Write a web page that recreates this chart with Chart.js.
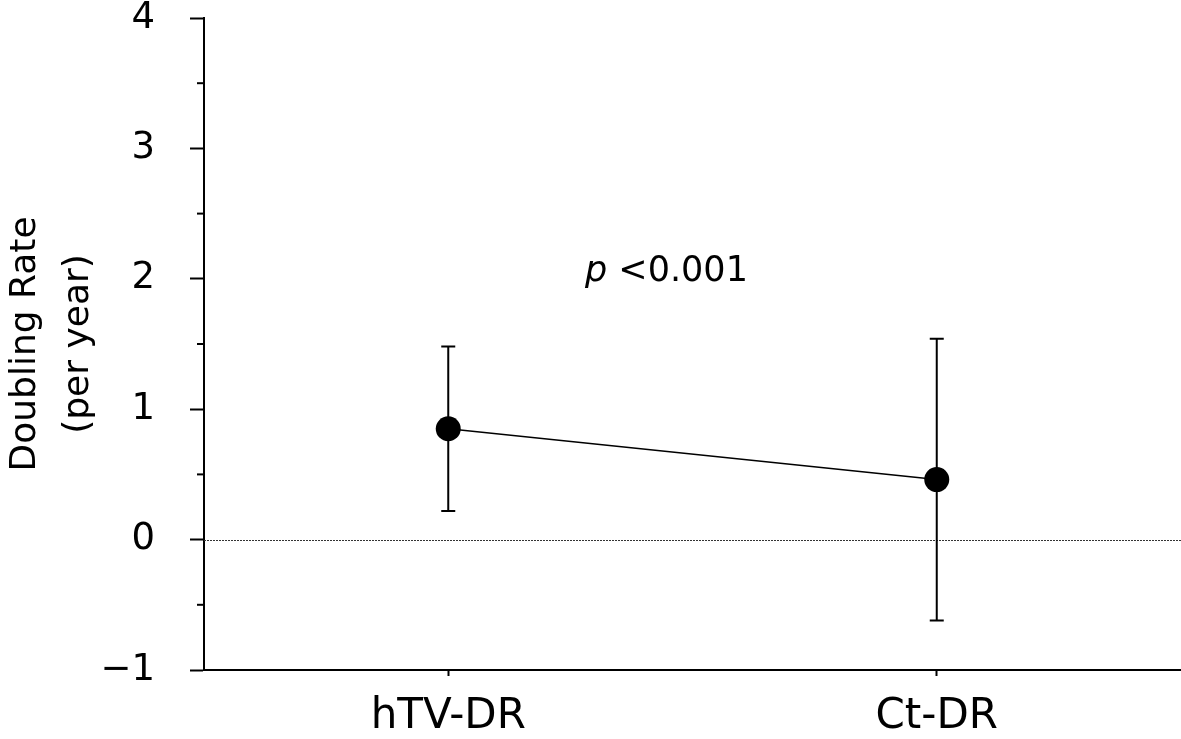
<!DOCTYPE html>
<html>
<head>
<meta charset="utf-8">
<script src="https://cdn.jsdelivr.net/npm/chart.js@4.4.1/dist/chart.umd.min.js"></script>
<style>
  html, body { margin: 0; padding: 0; background: #fff; overflow: hidden; }
  canvas { display: block; }
</style>
</head>
<body>
<canvas id="chart" width="1181" height="739"></canvas>
<script>
// Data
const categories = ['hTV-DR', 'Ct-DR'];
const meanValues = [0.85, 0.46];
const upperValues = [1.48, 1.54];
const lowerValues = [0.22, -0.62];
const yMin = -1;
const yMax = 4;
const pLabel = '<0.001';

const FONT = '"DejaVu Sans", "Liberation Sans", Arial, sans-serif';

// Error bars, zero reference line, minor ticks and the p-value note
const extrasPlugin = {
    id: 'extras',
    beforeDatasetsDraw(chart) {
        const ctx = chart.ctx;
        const x = chart.scales.x;
        const y = chart.scales.y;
        const area = chart.chartArea;

        // dotted line at zero
        ctx.save();
        ctx.strokeStyle = '#333';
        ctx.lineWidth = 1;
        ctx.setLineDash([2, 1]);
        ctx.beginPath();
        const y0 = Math.round(y.getPixelForValue(0)) + 0.5;
        ctx.moveTo(area.left, y0);
        ctx.lineTo(area.right, y0);
        ctx.stroke();
        ctx.restore();

        // minor ticks at the half values
        ctx.save();
        ctx.strokeStyle = '#000';
        ctx.lineWidth = 2;
        for (let v = yMin + 0.5; v < yMax; v += 1) {
            const py = y.getPixelForValue(v);
            ctx.beginPath();
            ctx.moveTo(area.left - 7, py);
            ctx.lineTo(area.left, py);
            ctx.stroke();
        }
        ctx.restore();

        // error bars
        ctx.save();
        ctx.strokeStyle = '#000';
        ctx.lineWidth = 2;
        categories.forEach((c, i) => {
            const px = x.getPixelForValue(i);
            const top = y.getPixelForValue(upperValues[i]);
            const bot = y.getPixelForValue(lowerValues[i]);
            ctx.beginPath();
            ctx.moveTo(px, top);
            ctx.lineTo(px, bot);
            ctx.moveTo(px - 7, top);
            ctx.lineTo(px + 7, top);
            ctx.moveTo(px - 7, bot);
            ctx.lineTo(px + 7, bot);
            ctx.stroke();
        });
        ctx.restore();
    },
    afterDraw(chart) {
        const ctx = chart.ctx;
        const x = chart.scales.x;
        const y = chart.scales.y;
        // p value note, placed between the two groups
        const px = x.getPixelForValue(0) + (x.getPixelForValue(1) - x.getPixelForValue(0)) * 0.28;
        const py = y.getPixelForValue(1.98);
        ctx.save();
        ctx.fillStyle = '#000';
        ctx.textBaseline = 'alphabetic';
        ctx.textAlign = 'left';
        ctx.font = 'italic 35px ' + FONT;
        ctx.fillText('p', px, py);
        const w = ctx.measureText('p ').width;
        ctx.font = '35px ' + FONT;
        ctx.fillText(pLabel, px + w, py);
        ctx.restore();
    }
};

const ctx = document.getElementById('chart').getContext('2d');
new Chart(ctx, {
    type: 'line',
    data: {
        labels: categories,
        datasets: [{
            label: 'Doubling Rate',
            data: meanValues,
            borderColor: '#000',
            borderWidth: 1.5,
            pointRadius: 12.5,
            pointHoverRadius: 12.5,
            pointBackgroundColor: '#000',
            pointBorderColor: '#000',
            pointBorderWidth: 0,
            tension: 0,
            fill: false
        }]
    },
    options: {
        responsive: false,
        animation: false,
        layout: {
            autoPadding: false,
            padding: { top: 18, right: 0, bottom: 0, left: 0 }
        },
        scales: {
            x: {
                type: 'category',
                offset: true,
                afterFit: s => { s.height = 69; },
                grid: {
                    drawOnChartArea: false,
                    tickLength: 6,
                    tickWidth: 2,
                    tickColor: '#000'
                },
                border: { color: '#000', width: 2 },
                ticks: {
                    color: '#000',
                    padding: 20,
                    font: { family: FONT, size: 42, lineHeight: 1 }
                }
            },
            y: {
                min: yMin,
                max: yMax,
                afterFit: s => { s.width = 204; s.paddingTop = 18; s.paddingBottom = 0; },
                grid: {
                    drawOnChartArea: false,
                    tickLength: 14,
                    tickWidth: 2,
                    tickColor: '#000'
                },
                border: { color: '#000', width: 2 },
                ticks: {
                    stepSize: 1,
                    color: '#000',
                    padding: 35,
                    font: { family: FONT, size: 37, lineHeight: 1 },
                    callback: v => (v < 0 ? '\u2212' + Math.abs(v) : String(v))
                },
                title: {
                    display: true,
                    text: ['Doubling Rate', '(per year)'],
                    color: '#000',
                    padding: { top: 0, bottom: 8 },
                    font: { family: FONT, size: 36, lineHeight: 1.45 }
                }
            }
        },
        plugins: {
            legend: { display: false },
            tooltip: { enabled: false }
        }
    },
    plugins: [extrasPlugin]
});
</script>
</body>
</html>
